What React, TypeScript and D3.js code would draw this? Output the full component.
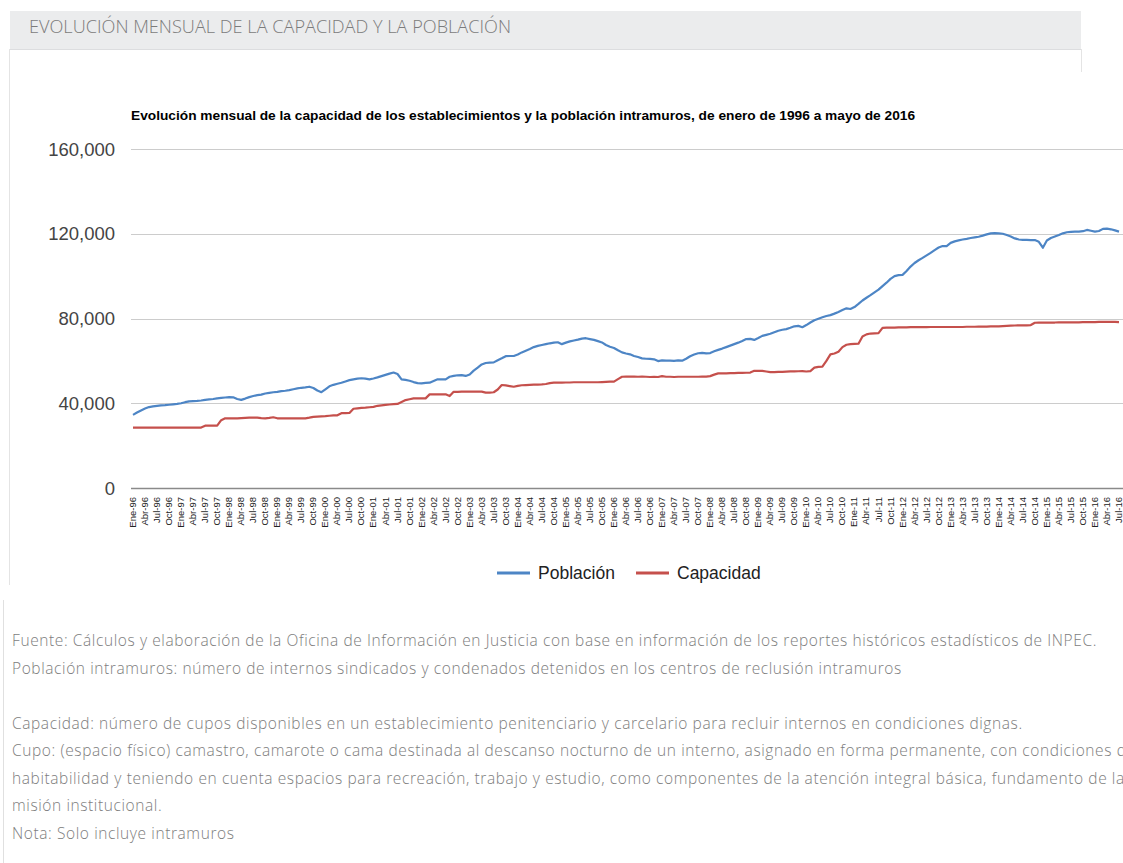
import * as d3 from 'd3';

// etiquetas de meses y años (eje X)
const monthNames = ['Ene', 'Feb', 'Mar', 'Abr', 'May', 'Jun', 'Jul', 'Ago', 'Sep', 'Oct', 'Nov', 'Dic'];
const yearLabels = ['96', '97', '98', '99', '00', '01', '02', '03', '04', '05', '06', '07', '08', '09', '10', '11', '12', '13', '14', '15', '16'];
const lastMonthIndex = 6; // Jul-16

const yTicks = [0, 40000, 80000, 120000, 160000];

// Población intramuros, mensual
const poblacion = [
  34500, 35600, 36600, 37500, 38200, 38500, 38800, 39000, 39100, 39300, 39500, 39700,
  40000, 40500, 40900, 41000, 41100, 41300, 41600, 41800, 42000, 42300, 42500, 42700,
  42900, 42800, 42000, 41600, 42200, 42900, 43400, 43800, 44100, 44600, 44900, 45200,
  45400, 45700, 45900, 46200, 46600, 47000, 47300, 47500, 47800, 47200, 46000, 45200,
  46600, 48000, 48700, 49200, 49700, 50300, 50900, 51300, 51600, 51800, 51600, 51300,
  51700, 52200, 52800, 53400, 54000, 54500, 53800, 51300, 51000, 50600, 50000, 49500,
  49400, 49600, 49700, 50500, 51300, 51300, 51300, 52500, 52900, 53200, 53300, 52900,
  53600, 55400, 56800, 58300, 59000, 59200, 59300, 60300, 61200, 62200, 62300, 62300,
  63000, 64000, 64800, 65600, 66500, 67100, 67500, 67900, 68300, 68600, 68800, 67900,
  68600, 69200, 69600, 70000, 70500, 70700, 70300, 69900, 69300, 68700, 67500, 66700,
  66100, 65000, 64000, 63500, 63100, 62300, 61800, 61200, 61000, 60900, 60750, 59900,
  60200, 60100, 60100, 60000, 60200, 60100, 61000, 62200, 63000, 63600, 63800, 63500,
  63700, 64500, 65200, 65800, 66500, 67200, 67900, 68600, 69400, 70300, 70400, 69900,
  70800, 71800, 72300, 72800, 73500, 74200, 74700, 75000, 75600, 76300, 76500, 75900,
  76900, 78100, 79200, 79900, 80600, 81200, 81600, 82300, 83100, 84000, 84800, 84500,
  85400, 86900, 88500, 89800, 91000, 92300, 93600, 95300, 96900, 98700, 100000, 100500,
  100600, 102400, 104500, 106200, 107500, 108600, 109800, 111000, 112300, 113500, 114200, 114200,
  115700, 116400, 116900, 117300, 117600, 118000, 118300, 118600, 119100, 119700, 120200, 120300,
  120200, 120000, 119400, 118700, 117800, 117300, 117100, 117100, 117000, 117000, 116200, 113400,
  116800, 118000, 118700, 119400, 120200, 120700, 120900, 121000, 121000, 121200, 121800, 121400,
  121000, 121300, 122300, 122400, 122100, 121600, 121000,
];

// Capacidad de los establecimientos, mensual
const capacidad = [
  28500, 28500, 28500, 28500, 28500, 28500, 28500, 28500, 28500, 28500, 28500, 28500,
  28500, 28500, 28500, 28500, 28500, 28500, 29400, 29400, 29400, 29400, 32000, 32900,
  32900, 32900, 32900, 33000, 33100, 33200, 33200, 33200, 33000, 32900, 33100, 33400,
  32900, 32900, 32900, 32900, 32900, 32900, 32900, 32900, 33200, 33600, 33700, 33800,
  33900, 34100, 34300, 34300, 35300, 35300, 35400, 37400, 37600, 37800, 37900, 38100,
  38300, 38800, 39000, 39200, 39400, 39600, 39700, 40600, 41500, 41900, 42300, 42300,
  42300, 42300, 44200, 44200, 44200, 44200, 44200, 43400, 45400, 45400, 45500, 45500,
  45500, 45500, 45500, 45500, 45000, 45000, 45200, 46500, 48600, 48400, 48100, 47800,
  48200, 48500, 48600, 48700, 48800, 48800, 48900, 49100, 49500, 49700, 49700, 49700,
  49800, 49800, 49900, 49900, 49900, 49900, 49900, 49900, 49900, 50000, 50100, 50200,
  50200, 51400, 52500, 52600, 52600, 52600, 52500, 52600, 52500, 52400, 52500, 52400,
  52800, 52500, 52500, 52400, 52500, 52500, 52500, 52500, 52500, 52500, 52600, 52600,
  52800, 53500, 54100, 54100, 54100, 54200, 54200, 54300, 54300, 54400, 54500, 55300,
  55300, 55300, 55000, 54700, 54700, 54800, 54800, 54900, 55000, 55000, 55100, 55200,
  55000, 55200, 56800, 57200, 57300, 60000, 63100, 63500, 64300, 66500, 67600, 67900,
  68000, 68100, 71500, 72500, 72900, 73000, 73100, 75600, 75700, 75700, 75700, 75800,
  75800, 75800, 75900, 75900, 75900, 75900, 75900, 76000, 76000, 76000, 76000, 76000,
  76000, 76000, 76000, 76000, 76100, 76100, 76100, 76200, 76200, 76200, 76300, 76300,
  76300, 76400, 76500, 76600, 76700, 76800, 76800, 76800, 76900, 78000, 78100, 78100,
  78100, 78100, 78100, 78200, 78200, 78200, 78200, 78200, 78200, 78300, 78300, 78300,
  78300, 78400, 78400, 78400, 78400, 78400, 78300,
];

const notas = [
  'Fuente: Cálculos y elaboración de la Oficina de Información en Justicia con base en información de los reportes históricos estadísticos de INPEC.',
  'Población intramuros: número de internos sindicados y condenados detenidos en los centros de reclusión intramuros',
  '',
  'Capacidad: número de cupos disponibles en un establecimiento penitenciario y carcelario para recluir internos en condiciones dignas.',
  'Cupo: (espacio físico) camastro, camarote o cama destinada al descanso nocturno de un interno, asignado en forma permanente, con condiciones de',
  'habitabilidad y teniendo en cuenta espacios para recreación, trabajo y estudio, como componentes de la atención integral básica, fundamento de la',
  'misión institucional.',
  'Nota: Solo incluye intramuros',
];

const months: string[] = [];
yearLabels.forEach((yy, yi) => {
  monthNames.forEach((mm, mi) => {
    if (yi === yearLabels.length - 1 && mi > lastMonthIndex) return;
    months.push(`${mm}-${yy}`);
  });
});

const BLUE = '#4d85c5';
const RED = '#c5504c';
const ARIAL = 'Arial, Liberation Sans';

export default function App() {
  const width = 1123;
  const height = 863;

  const x = d3.scalePoint<string>().domain(months).range([133, 1119]);
  const y = d3.scaleLinear().domain([0, 160000]).range([488, 149]);

  const line = d3
    .line<number>()
    .x((_, i) => x(months[i]) as number)
    .y(d => y(d));

  const fmt = d3.format(',');
  const quarterLabels = months.filter((_, i) => i % 3 === 0);

  return (
    <svg
      width={width}
      height={height}
      style={{ position: 'absolute', left: 0, top: 0, background: '#fff' }}
    >
      {/* cabecera */}
      <rect x={10} y={11} width={1071} height={38} fill='#ebeced' />
      <line x1={10} x2={1081} y1={49.5} y2={49.5} stroke='#dcdddf' />
      <line x1={9.5} x2={9.5} y1={49} y2={585} stroke='#e4e4e4' />
      <line x1={1081.5} x2={1081.5} y1={49} y2={72} stroke='#e4e4e4' />
      <text
        x={29}
        y={33}
        fontFamily='Open Sans'
        fontWeight={300}
        fontSize={18}
        fill='#7b7b7b'
        textLength={482}
        lengthAdjust='spacingAndGlyphs'
      >
        EVOLUCIÓN MENSUAL DE LA CAPACIDAD Y LA POBLACIÓN
      </text>

      {/* título del gráfico */}
      <text
        x={131}
        y={120}
        fontFamily={ARIAL}
        fontWeight='bold'
        fontSize={13}
        fill='#000'
        textLength={784}
        lengthAdjust='spacingAndGlyphs'
      >
        Evolución mensual de la capacidad de los establecimientos y la población intramuros, de enero de 1996 a mayo de 2016
      </text>

      {/* rejilla y eje Y */}
      {yTicks.map(t => (
        <g key={t}>
          <line
            x1={131}
            x2={1123}
            y1={Math.round(y(t)) + 0.5}
            y2={Math.round(y(t)) + 0.5}
            stroke={t === 0 ? '#8a8a8a' : '#cccccc'}
            strokeWidth={t === 0 ? 1.5 : 1}
          />
          <text x={115} y={y(t) + 6.5} textAnchor='end' fontFamily={ARIAL} fontSize={18.5} fill='#444'>
            {fmt(t)}
          </text>
        </g>
      ))}

      {/* etiquetas eje X */}
      {quarterLabels.map(m => (
        <text
          key={m}
          transform={`translate(${(x(m) as number) + 3},497) rotate(-90)`}
          textAnchor='end'
          fontFamily={ARIAL}
          fontSize={9.5}
          fill='#222'
        >
          {m}
        </text>
      ))}

      {/* series */}
      <path d={line(capacidad) ?? ''} fill='none' stroke={RED} strokeWidth={2.2} strokeLinejoin='round' />
      <path d={line(poblacion) ?? ''} fill='none' stroke={BLUE} strokeWidth={2.2} strokeLinejoin='round' />

      {/* leyenda */}
      <line x1={497} x2={530} y1={573} y2={573} stroke={BLUE} strokeWidth={3} />
      <text x={538} y={579} fontFamily={ARIAL} fontSize={17.5} fill='#222'>
        Población
      </text>
      <line x1={636} x2={669} y1={573} y2={573} stroke={RED} strokeWidth={3} />
      <text x={677} y={579} fontFamily={ARIAL} fontSize={17.5} fill='#222'>
        Capacidad
      </text>

      {/* notas */}
      <line x1={3.5} x2={3.5} y1={600} y2={863} stroke='#e0e0e0' />
      {notas.map((n, i) => (
        <text
          key={i}
          x={12}
          y={646 + i * 27.5}
          fontFamily='Open Sans'
          fontWeight={300}
          fontSize={15.5}
          letterSpacing={0.6}
          fill='#7d7d7d'
        >
          {n}
        </text>
      ))}
    </svg>
  );
}
